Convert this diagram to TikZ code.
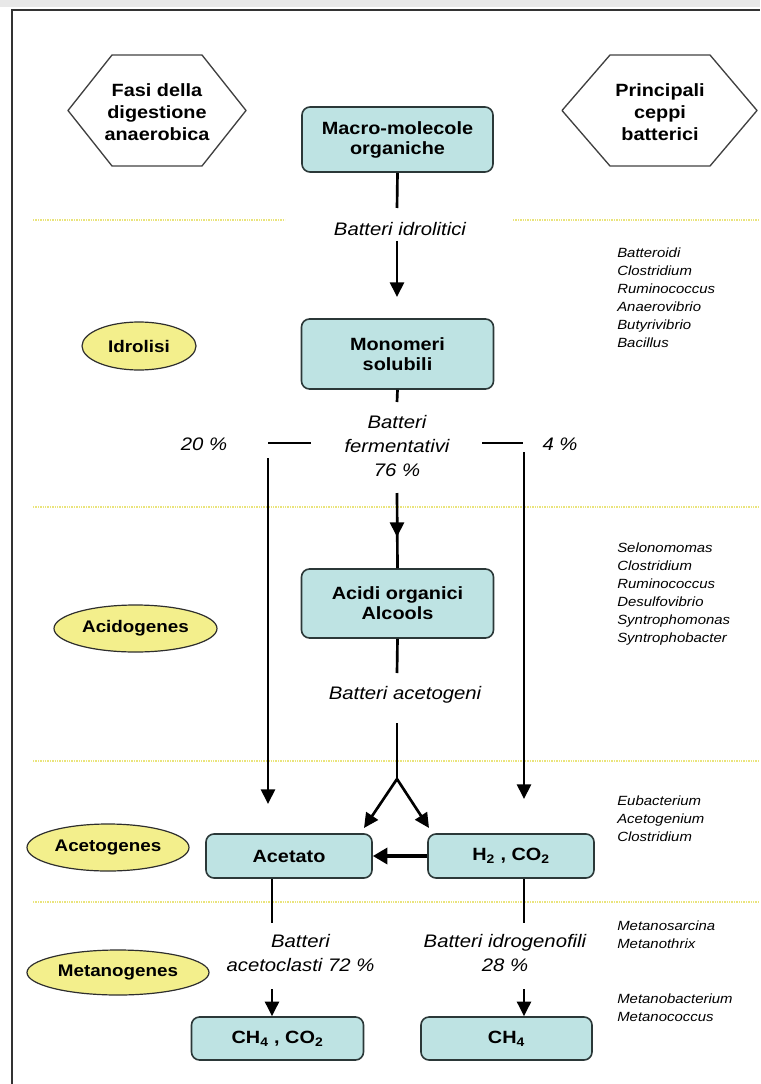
\documentclass[tikz,border=0pt]{standalone}
\usepackage{fontspec}
\setmainfont{Liberation Sans}[FakeStretch=1.12]
\usetikzlibrary{arrows.meta,shapes.geometric}

\definecolor{boxfill}{HTML}{BEE3E3}
\definecolor{boxline}{HTML}{2B3838}
\definecolor{ellfill}{HTML}{F3EF8C}
\definecolor{ellline}{HTML}{2E2E2E}
\definecolor{phaseline}{HTML}{EAE47C}
\definecolor{framec}{HTML}{333333}
\definecolor{bandc}{HTML}{E8E8E8}

\newcommand\boxfont{\fontsize{13.3}{15}\selectfont\bfseries}
\newcommand\hexfont{\fontsize{13.3}{16.5}\selectfont\bfseries}
\newcommand\labfont{\fontsize{13.6}{18}\selectfont\itshape}
\newcommand\spfont{\fontsize{10}{13.5}\selectfont\itshape}
\newcommand\ellfont{\fontsize{12.6}{15}\selectfont\bfseries}

\tikzset{
  box/.style={draw=boxline, fill=boxfill, rounded corners=6pt, line width=1.2pt,
    inner sep=0pt, align=center, font=\boxfont},
  phase/.style={ellipse, draw=ellline, fill=ellfill, line width=0.9pt,
    inner sep=0pt, font=\ellfont},
  hextext/.style={align=center, font=\hexfont, inner sep=0pt},
  hexshape/.style={draw=black!75, line width=1pt, line join=round},
  lab/.style={align=center, font=\labfont, inner sep=0pt},
  species/.style={align=left, font=\spfont, inner sep=0pt, anchor=west},
  link/.style={line width=2pt},
  arr/.style={line width=2pt, -{Triangle[length=11pt,width=10.5pt]}},
  bigarr/.style={line width=3pt, -{Triangle[length=11pt,width=12pt]}},
  divider/.style={phaseline, line width=1.8pt, dash pattern=on 1pt off 0.8pt},
}

\begin{document}
\begin{tikzpicture}[x=0.75pt, y=-0.75pt]
\useasboundingbox (0,0) rectangle (760,1084);

% page frame
\fill[bandc] (0,0) rectangle (760,7);
\draw[framec, line width=1.5pt] (12,1084) -- (12,10) -- (760,10);

% phase dividers
\draw[divider] (33,220) -- (285,220);
\draw[divider] (513,220) -- (760,220);
\draw[divider] (33,507) -- (760,507);
\draw[divider] (33,761) -- (760,761);
\draw[divider] (33,902) -- (760,902);

% column headers
\node[hextext] (hexL) at (157,112) {Fasi della\\digestione\\anaerobica};
\draw[hexshape] (68,110.5) -- (112,55) -- (202,55) -- (246,110.5) -- (202,166) -- (112,166) -- cycle;
\node[hextext] (hexR) at (660,112) {Principali\\ceppi\\batterici};
\draw[hexshape] (562,110.5) -- (610,55) -- (710,55) -- (757,110.5) -- (710,166) -- (610,166) -- cycle;

% substrates and products
\node[box, minimum width=143.25pt, minimum height=48.75pt] (macro) at (397.5,139.5) {Macro-molecole\\organiche};
\node[box, minimum width=144pt, minimum height=52.5pt] (mono) at (397.5,354) {Monomeri\\solubili};
\node[box, minimum width=144pt, minimum height=51.75pt] (acidi) at (397.5,603.5) {Acidi organici\\Alcools};
\node[box, minimum width=124.5pt, minimum height=33pt] (acet) at (289,856) {Acetato};
\node[box, minimum width=124.5pt, minimum height=33pt] (htwo) at (511,856) {H\textsubscript{2} , CO\textsubscript{2}};
\node[box, minimum width=129pt, minimum height=32.25pt] (mix) at (277.5,1038.5) {CH\textsubscript{4} , CO\textsubscript{2}};
\node[box, minimum width=128.25pt, minimum height=32.25pt] (meth) at (506.5,1038.5) {CH\textsubscript{4}};

% phases
\node[phase, minimum width=85.5pt, minimum height=36pt] (idro) at (139,346) {Idrolisi};
\node[phase, minimum width=122.25pt, minimum height=35.25pt] (acido) at (135.5,628.5) {Acidogenes};
\node[phase, minimum width=121.5pt, minimum height=35.25pt] (aceto) at (108,847.5) {Acetogenes};
\node[phase, minimum width=136.5pt, minimum height=33.75pt] (metano) at (118,972.5) {Metanogenes};

% bacteria labels
\node[lab, anchor=base] (lidro) at (400,235) {Batteri idrolitici};
\node[lab] (lferm) at (397,446) {Batteri\\fermentativi\\76 \%};
\node[lab, anchor=base] (pleft) at (204,450) {20 \%};
\node[lab, anchor=base] (pright) at (560,450) {4 \%};
\node[lab, anchor=base] (lacet) at (405,699) {Batteri acetogeni};
\node[lab] (lclast) at (300.5,953.5) {Batteri\\acetoclasti 72 \%};
\node[lab] (lhydro) at (505,953.5) {Batteri idrogenofili\\28 \%};

% bacterial genera
\node[species] (sp1) at (617,297.5) {Batteroidi\\Clostridium\\Ruminococcus\\Anaerovibrio\\Butyrivibrio\\Bacillus};
\node[species] (sp2) at (617,594.5) {Selonomomas\\Clostridium\\Ruminococcus\\Desulfovibrio\\Syntrophomonas\\Syntrophobacter};
\node[species] (sp3) at (617,818.5) {Eubacterium\\Acetogenium\\Clostridium};
\node[species] (sp4) at (617,935) {Metanosarcina\\Metanothrix};
\node[species] (sp5) at (617,1007.5) {Metanobacterium\\Metanococcus};

% connector end points
\coordinate (c1) at (397,208);
\coordinate (c2) at (397,241);
\coordinate (t2) at (397,297);
\coordinate (c3) at (397,402);
\coordinate (dl1) at (268,443);
\coordinate (dl2) at (311,443);
\coordinate (dr1) at (482,443);
\coordinate (dr2) at (523,443);
\coordinate (vl1) at (268,458);
\coordinate (vl2) at (268,804);
\coordinate (vr1) at (524,452);
\coordinate (vr2) at (524,799);
\coordinate (c4) at (397,493);
\coordinate (t4) at (397,537);
\coordinate (c5) at (397,673);
\coordinate (c6) at (397,723);
\coordinate (fork) at (397,779);
\coordinate (fl) at (364,828);
\coordinate (fr) at (429,828);
\coordinate (la) at (272,923);
\coordinate (lb) at (524,923);
\coordinate (ma) at (272,989);
\coordinate (mb) at (524,989);

% connectors
\draw[link] (macro.south) -- (c1);
\draw[arr] (c2) -- (t2);
\draw[link] (mono.south) -- (c3);
\draw[link] (dl1) -- (dl2);
\draw[link] (dr1) -- (dr2);
\draw[arr] (vl1) -- (vl2);
\draw[arr] (vr1) -- (vr2);
\draw[link] (c4) -- (acidi.north);
\draw[arr] (c4) -- (t4);
\draw[link] (acidi.south) -- (c5);
\draw[link] (c6) -- (fork);
\draw[arr] (fork) -- (fl);
\draw[arr] (fork) -- (fr);
\draw[bigarr] (htwo.west) -- (acet.east);
\draw[link] (acet.south -| la) -- (la);
\draw[link] (htwo.south -| lb) -- (lb);
\draw[arr] (ma) -- (mix.north -| ma);
\draw[arr] (mb) -- (meth.north -| mb);
\end{tikzpicture}
\end{document}
